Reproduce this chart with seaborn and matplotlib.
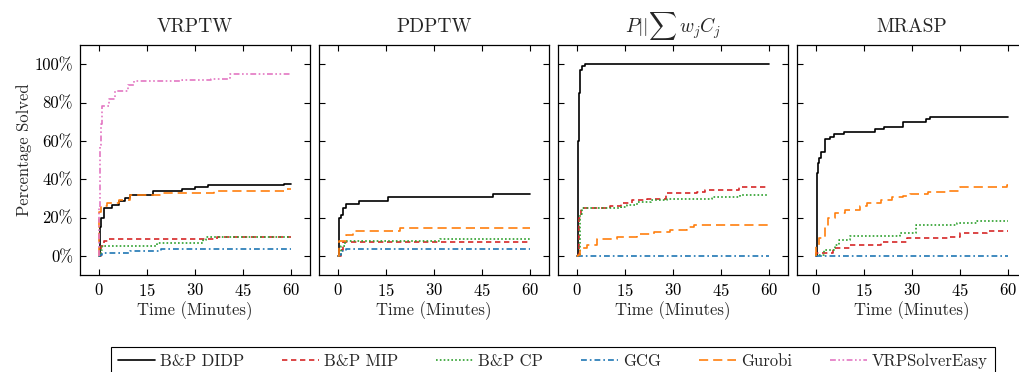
import pandas as pd
import seaborn as sns
import matplotlib.pyplot as plt
from matplotlib.lines import Line2D
from matplotlib.ticker import FuncFormatter

solvers = ["B&P DIDP", "B&P MIP", "B&P CP", "GCG", "Gurobi", "VRPSolverEasy"]
panel_titles = ["VRPTW", "PDPTW", r"$P||\sum\, w_jC_j$", "MRASP"]
x_ticks = [0, 15, 30, 45, 60]
y_ticks = [0, 20, 40, 60, 80, 100]

# VRPTW (time in minutes, percentage solved)
vrptw_didp_t = [0, 0.2, 0.5, 1.5, 4, 6.3, 8, 9.5, 17, 26, 30, 34, 58, 60]
vrptw_didp_p = [0, 15, 20, 25, 26.7, 28.4, 30, 32, 34, 35, 35.8, 36.8, 37.7, 37.7]
vrptw_mip_t = [0, 0.5, 1.5, 3, 37, 41, 60]
vrptw_mip_p = [0, 5, 7.5, 9, 9.6, 10, 10]
vrptw_cp_t = [0, 0.5, 1, 18, 32.6, 33.5, 60]
vrptw_cp_p = [0, 3, 5, 6.6, 8.4, 9.8, 9.8]
vrptw_gcg_t = [0, 0.3, 1, 9.5, 19.5, 60]
vrptw_gcg_p = [0, 0.5, 1.4, 2.6, 3.7, 3.7]
vrptw_gurobi_t = [0, 0.1, 0.5, 2.6, 6.3, 9.5, 20, 36, 58, 60]
vrptw_gurobi_p = [0, 23, 26, 27.6, 29.3, 32, 32.8, 33.7, 35, 35]
vrptw_vrp_t = [0, 0.1, 0.2, 0.3, 0.5, 1, 3, 5, 9, 11, 23, 26, 35, 41, 60]
vrptw_vrp_p = [0, 25, 45, 58, 69, 78, 82, 86, 89, 91, 91.3, 92, 92.5, 95, 95]

# PDPTW
pdptw_didp_t = [0, 0.3, 1, 1.6, 2.4, 6.6, 15.7, 48.5, 60]
pdptw_didp_p = [0, 19.7, 21.5, 25, 27, 28.4, 30.7, 32.5, 32.5]
pdptw_mip_t = [0, 1, 1.5, 60]
pdptw_mip_p = [0, 3, 7.2, 7.2]
pdptw_cp_t = [0, 1, 2, 32, 60]
pdptw_cp_p = [0, 5, 7.5, 9, 9]
pdptw_gcg_t = [0, 0.3, 1, 2.6, 60]
pdptw_gcg_p = [0, 0.5, 2.3, 3.5, 3.5]
pdptw_gurobi_t = [0, 0.3, 2.4, 4.7, 19.2, 60]
pdptw_gurobi_p = [0, 7.5, 11, 12.7, 14.5, 14.5]

# P||sum wjCj
pwc_didp_t = [0, 0.2, 0.3, 0.5, 1.0, 1.5, 2.4, 60]
pwc_didp_p = [0, 40, 60, 85, 97, 99, 100, 100]
pwc_mip_t = [0, 0.5, 1.2, 10.4, 13.6, 17.2, 22, 27.7, 37.6, 40, 50.6, 60]
pwc_mip_p = [0, 20, 25, 26, 27.4, 29, 29.7, 32.6, 33.5, 34.4, 36.1, 36.1]
pwc_cp_t = [0, 0.8, 1.5, 13.6, 15.7, 18.8, 23, 28.2, 42.3, 51, 60]
pwc_cp_p = [0, 22, 25, 25.7, 26.6, 28.3, 29.2, 29.7, 30.9, 31.8, 31.8]
pwc_gcg_t = [0, 60]
pwc_gcg_p = [0, 0]
pwc_gurobi_t = [0, 0.3, 1, 3.1, 6.3, 12.5, 18.8, 24, 29.2, 34.4, 36.5, 60]
pwc_gurobi_p = [0, 0.5, 4, 5.7, 8.7, 10, 11.3, 12.2, 13.5, 15.3, 16, 16]

# MRASP
mrasp_didp_t = [0, 0.2, 0.5, 0.8, 1.5, 2.9, 4.2, 5.5, 8.6, 18.3, 21.3, 27.2, 34.3, 35.6, 60]
mrasp_didp_p = [0, 43, 48.5, 51, 54, 60.7, 62, 63.4, 64.7, 66, 67.2, 70, 71.2, 72.6, 72.6]
mrasp_mip_t = [0, 0.1, 5.2, 10.5, 20.4, 28.3, 41.4, 45, 53.4, 60]
mrasp_mip_p = [0, 1.4, 4, 5.4, 7.2, 9.1, 10, 11.9, 13.1, 13.1]
mrasp_cp_t = [0, 0.1, 2.6, 5.8, 7.3, 10.5, 26.2, 31.4, 44, 50.3, 60]
mrasp_cp_p = [0, 0.5, 2.8, 5.8, 8.4, 10.5, 11.9, 15.9, 17.1, 18.3, 18.3]
mrasp_gcg_t = [0, 60]
mrasp_gcg_p = [0, 0]
mrasp_gurobi_t = [0, 0.1, 1, 2.8, 3.7, 5.8, 8.9, 13.6, 15.9, 20.4, 23.6, 27.2, 29.3, 35, 40.8, 45, 59.7, 60]
mrasp_gurobi_p = [0, 5.8, 9.2, 15.4, 19.7, 22.3, 23.7, 25.8, 27.6, 29.3, 30.5, 31.4, 32.3, 33.2, 33.7, 35.8, 37.2, 37.2]

panels = [
    {"B&P DIDP": (vrptw_didp_t, vrptw_didp_p), "B&P MIP": (vrptw_mip_t, vrptw_mip_p),
     "B&P CP": (vrptw_cp_t, vrptw_cp_p), "GCG": (vrptw_gcg_t, vrptw_gcg_p),
     "Gurobi": (vrptw_gurobi_t, vrptw_gurobi_p), "VRPSolverEasy": (vrptw_vrp_t, vrptw_vrp_p)},
    {"B&P DIDP": (pdptw_didp_t, pdptw_didp_p), "B&P MIP": (pdptw_mip_t, pdptw_mip_p),
     "B&P CP": (pdptw_cp_t, pdptw_cp_p), "GCG": (pdptw_gcg_t, pdptw_gcg_p),
     "Gurobi": (pdptw_gurobi_t, pdptw_gurobi_p)},
    {"B&P DIDP": (pwc_didp_t, pwc_didp_p), "B&P MIP": (pwc_mip_t, pwc_mip_p),
     "B&P CP": (pwc_cp_t, pwc_cp_p), "GCG": (pwc_gcg_t, pwc_gcg_p),
     "Gurobi": (pwc_gurobi_t, pwc_gurobi_p)},
    {"B&P DIDP": (mrasp_didp_t, mrasp_didp_p), "B&P MIP": (mrasp_mip_t, mrasp_mip_p),
     "B&P CP": (mrasp_cp_t, mrasp_cp_p), "GCG": (mrasp_gcg_t, mrasp_gcg_p),
     "Gurobi": (mrasp_gurobi_t, mrasp_gurobi_p)},
]

colors = {"B&P DIDP": "black", "B&P MIP": "#d62728", "B&P CP": "#2ca02c",
          "GCG": "#1f77b4", "Gurobi": "#ff7f0e", "VRPSolverEasy": "#e377c2"}
dash_map = {"B&P DIDP": "", "B&P MIP": (3.2, 2.2), "B&P CP": (1, 1.3),
            "GCG": (3.5, 1.8, 1, 1.8), "Gurobi": (5.5, 3),
            "VRPSolverEasy": (3.5, 1.5, 1, 1.5, 1, 1.5)}

sns.set_theme(style="ticks")
plt.rcParams["font.family"] = ["cmr10"]
plt.rcParams["mathtext.fontset"] = "cm"
plt.rcParams["axes.formatter.use_mathtext"] = True
plt.rcParams["axes.unicode_minus"] = False

W, H = 1019, 372
fig = plt.figure(figsize=(W / 100, H / 100), dpi=100)

for i, data in enumerate(panels):
    left = 80 + 239 * i
    ax = fig.add_axes([left / W, (H - 275) / H, 230 / W, 230 / H])
    rows = []
    for s, (t, p) in data.items():
        for tt, pp in zip(t, p):
            rows.append((s, tt, pp))
    df = pd.DataFrame(rows, columns=["solver", "time", "pct"])
    sns.lineplot(data=df, x="time", y="pct", hue="solver", style="solver",
                 palette=colors, dashes=dash_map, drawstyle="steps-post",
                 estimator=None, lw=1.2, legend=False, ax=ax)
    ax.set_xlim(-6, 66)
    ax.set_ylim(-10, 110)
    ax.set_xticks(x_ticks)
    ax.set_yticks(y_ticks)
    ax.yaxis.set_major_formatter(FuncFormatter(lambda v, pos: f"{int(v)}%"))
    ax.tick_params(direction="in", top=True, right=True, length=4, width=0.8,
                   labelsize=12, colors="black", pad=5)
    for sp in ax.spines.values():
        sp.set_visible(True)
        sp.set_color("black")
        sp.set_linewidth(0.9)
    ax.set_xlabel("Time (Minutes)", fontsize=12, labelpad=2)
    if i == 0:
        ax.set_ylabel("Percentage Solved", fontsize=12)
        ax.yaxis.set_label_coords(-0.21, 0.545)
    else:
        ax.set_ylabel("")
        ax.tick_params(labelleft=False)
    ax.set_title(panel_titles[i], fontsize=14, pad=9)

handles = [Line2D([], [], color=colors[s], lw=1.2,
                  linestyle="-" if dash_map[s] == "" else (0, dash_map[s]))
           for s in solvers]
leg = fig.legend(handles, solvers, loc="upper center", ncol=6,
                 bbox_to_anchor=(553 / W, 1 - 347 / H), fontsize=12,
                 frameon=True, fancybox=False, framealpha=1, borderaxespad=0,
                 handlelength=2.2, handletextpad=0.3, columnspacing=2.3,
                 borderpad=0.4)
leg.get_frame().set_edgecolor("black")
leg.get_frame().set_linewidth(0.8)

fig.savefig("out.png", dpi=100)
